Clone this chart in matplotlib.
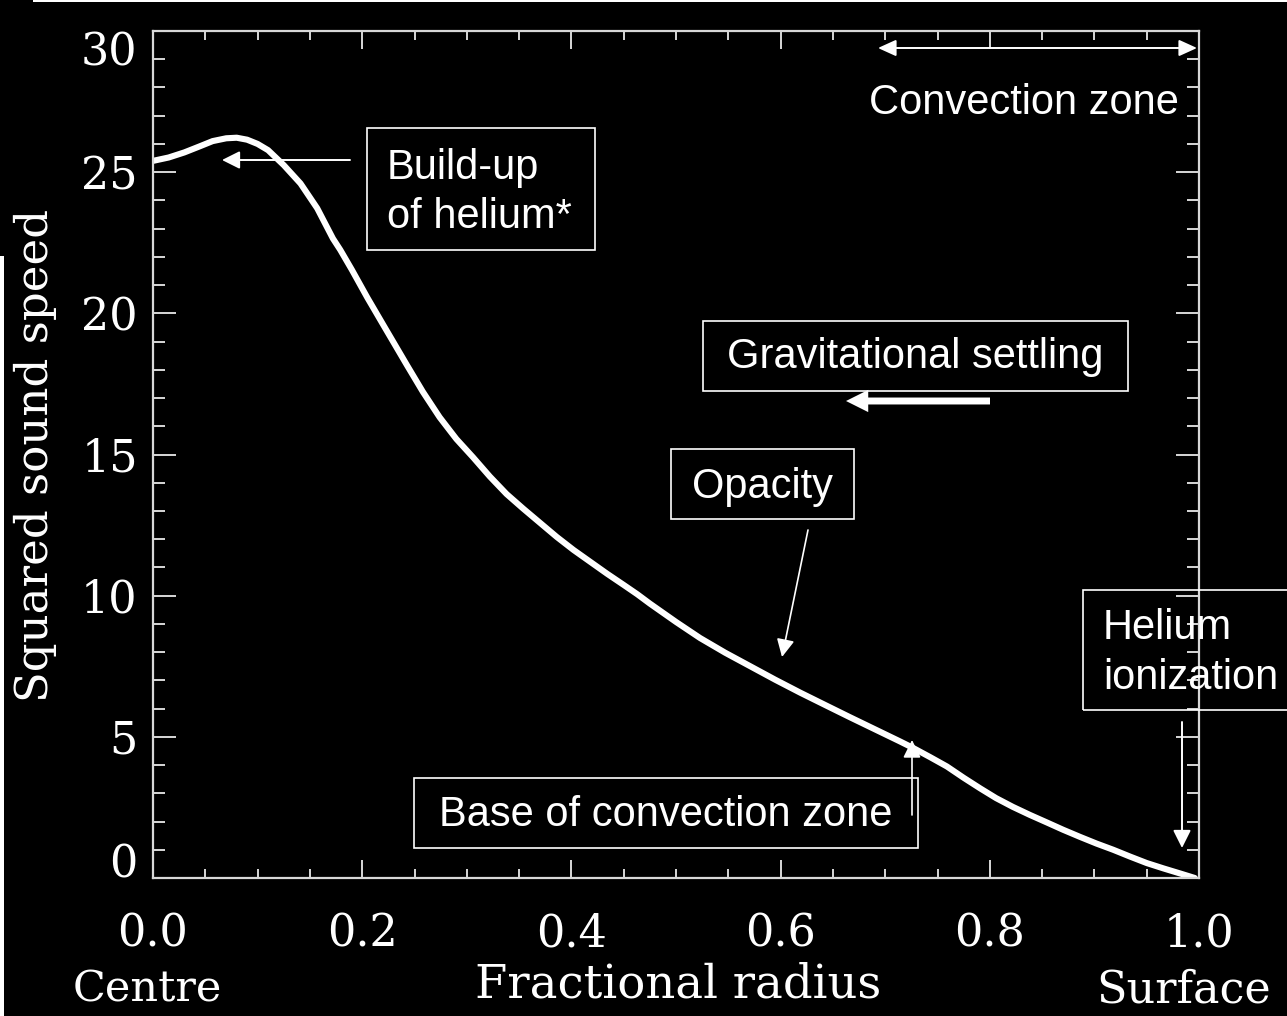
import matplotlib
matplotlib.use("Agg")
import matplotlib.pyplot as plt
from matplotlib.patches import Rectangle, ArrowStyle
from matplotlib.ticker import MultipleLocator

# ---- data ----
radius = [0.000, 0.015, 0.030, 0.045, 0.057, 0.070, 0.080, 0.090, 0.100, 0.110,
          0.125, 0.141, 0.157, 0.172, 0.179, 0.190, 0.205, 0.220, 0.243, 0.258,
          0.274, 0.290, 0.306, 0.322, 0.338, 0.354, 0.370, 0.386, 0.402, 0.418,
          0.434, 0.450, 0.463, 0.475, 0.500, 0.523, 0.547, 0.571, 0.595, 0.619,
          0.643, 0.666, 0.690, 0.714, 0.727, 0.743, 0.759, 0.775, 0.791, 0.806,
          0.822, 0.838, 0.855, 0.870, 0.886, 0.902, 0.918, 0.934, 0.950, 0.966,
          0.982, 0.996]
c_squared = [25.40, 25.52, 25.70, 25.92, 26.10, 26.20, 26.22, 26.15, 26.00, 25.78,
             25.25, 24.60, 23.72, 22.65, 22.25, 21.55, 20.55, 19.60, 18.15, 17.22,
             16.32, 15.55, 14.90, 14.22, 13.60, 13.08, 12.58, 12.08, 11.62, 11.20,
             10.78, 10.38, 10.05, 9.72, 9.07, 8.50, 7.98, 7.50, 7.02, 6.56,
             6.12, 5.70, 5.27, 4.84, 4.60, 4.28, 3.95, 3.55, 3.17, 2.83,
             2.52, 2.24, 1.96, 1.71, 1.46, 1.22, 1.00, 0.76, 0.53, 0.34,
             0.16, 0.00]

x_ticks = [0.0, 0.2, 0.4, 0.6, 0.8, 1.0]
x_ticklabels = ["0.0", "0.2", "0.4", "0.6", "0.8", "1.0"]
y_ticks = [0, 5, 10, 15, 20, 25, 30]
y_ticklabels = ["0", "5", "10", "15", "20", "25", "30"]

W, H = 1287, 1016
DPI = 100
fig = plt.figure(figsize=(W / DPI, H / DPI), dpi=DPI, facecolor="black")

def fx(px):
    return px / W

def fy(py):
    return 1 - py / H

AXC = "#d8d8d8"
serif = "DejaVu Serif"
sans = "Liberation Sans"

ax = fig.add_axes([fx(153), fy(878), (1199 - 153) / W, (878 - 31) / H])
ax.set_facecolor("black")
ax.plot(radius, c_squared, color="white", lw=4.4, solid_capstyle="round",
        solid_joinstyle="round")
ax.set_xlim(0, 1.0)
ax.set_ylim(0, 30)
for s in ax.spines.values():
    s.set_color(AXC)
    s.set_linewidth(1.6)

ax.set_xticks(x_ticks)
ax.set_xticklabels(x_ticklabels)
ax.set_yticks(y_ticks)
ax.set_yticklabels(y_ticklabels)
ax.xaxis.set_minor_locator(MultipleLocator(0.05))
ax.yaxis.set_minor_locator(MultipleLocator(1))
ax.tick_params(axis="x", which="major", direction="in", length=13, width=1.4,
               color=AXC, top=True, bottom=True, pad=25)
ax.tick_params(axis="x", which="minor", direction="in", length=6.5, width=1.4,
               color=AXC, top=True, bottom=True)
ax.tick_params(axis="y", which="major", direction="in", length=16.5, width=1.4,
               color=AXC, left=True, right=True, pad=11)
ax.tick_params(axis="y", which="minor", direction="in", length=8.5, width=1.4,
               color=AXC, left=True, right=True)
for lab in ax.get_xticklabels() + ax.get_yticklabels():
    lab.set_fontfamily(serif)
    lab.set_fontsize(32)
    lab.set_color("white")
ylabs = ax.get_yticklabels()
ylabs[0].set_verticalalignment("baseline")
ylabs[-1].set_verticalalignment("top")

# axis titles
fig.text(fx(35), fy(455), "Squared sound speed", rotation=90, ha="center",
         va="center", color="white", fontfamily=serif, fontsize=32.5)
fig.text(fx(678), fy(985), "Fractional radius", ha="center", va="center",
         color="white", fontfamily=serif, fontsize=33.5)
fig.text(fx(147), fy(990), "Centre", ha="center", va="center",
         color="white", fontfamily=serif, fontsize=31)
fig.text(fx(1184), fy(990), "Surface", ha="center", va="center",
         color="white", fontfamily=serif, fontsize=32)

# ---- annotation boxes ----
def box(x0, y0, x1, y1):
    fig.add_artist(Rectangle((fx(x0), fy(y1)), (x1 - x0) / W, (y1 - y0) / H,
                             transform=fig.transFigure, fill=False,
                             edgecolor="white", lw=1.2, clip_on=False))

def label(x, y, s, ha="left"):
    fig.text(fx(x), fy(y), s, ha=ha, va="center", color="white",
             fontfamily=sans, fontsize=30)

def arrow(x0, y0, x1, y1, lw=1.4, hl=10.8, hw=5.4, style="-|>"):
    ax.annotate("", xy=(fx(x1), fy(y1)), xytext=(fx(x0), fy(y0)),
                xycoords="figure fraction", textcoords="figure fraction",
                arrowprops=dict(arrowstyle=ArrowStyle(style, head_length=hl,
                                                      head_width=hw),
                                mutation_scale=1, color="white", lw=lw,
                                shrinkA=0, shrinkB=0))

# Build-up of helium
box(367, 128, 595, 250)
label(387, 168, "Build-up")
label(387, 217, "of helium*")
arrow(350, 160, 222, 160)

# Convection zone
arrow(878, 48, 1197, 48, style="<|-|>", hl=11, hw=5)
label(1024, 103, "Convection zone", ha="center")

# Gravitational settling
box(703, 321, 1128, 391)
label(915, 357, "Gravitational settling", ha="center")
ax.annotate("", xy=(fx(846), fy(401)), xytext=(fx(990), fy(401)),
            xycoords="figure fraction", textcoords="figure fraction",
            arrowprops=dict(arrowstyle=ArrowStyle("simple", head_length=16,
                                                  head_width=16, tail_width=5),
                            mutation_scale=1, color="white", lw=0,
                            shrinkA=0, shrinkB=0))

# Opacity
box(671, 449, 854, 519)
label(762, 487, "Opacity", ha="center")
arrow(808, 530, 782, 657, lw=1.2)

# Base of convection zone
box(414, 778, 918, 848)
label(666, 815, "Base of convection zone", ha="center")
arrow(912, 815, 912, 740, lw=1.2)

# Helium ionization
box(1083, 590, 1320, 710)
label(1103, 628, "Helium")
label(1103, 678, "ionization")
arrow(1182, 722, 1182, 848, lw=1.4)

# slide-crop edge artifacts
fig.add_artist(Rectangle((0, 0), fx(4), fy(256), transform=fig.transFigure,
                         facecolor="white", edgecolor="none"))
fig.add_artist(Rectangle((fx(33), fy(2)), 1, 2 / H, transform=fig.transFigure,
                         facecolor="white", edgecolor="none"))

fig.savefig("out.png", dpi=DPI, facecolor="black")
